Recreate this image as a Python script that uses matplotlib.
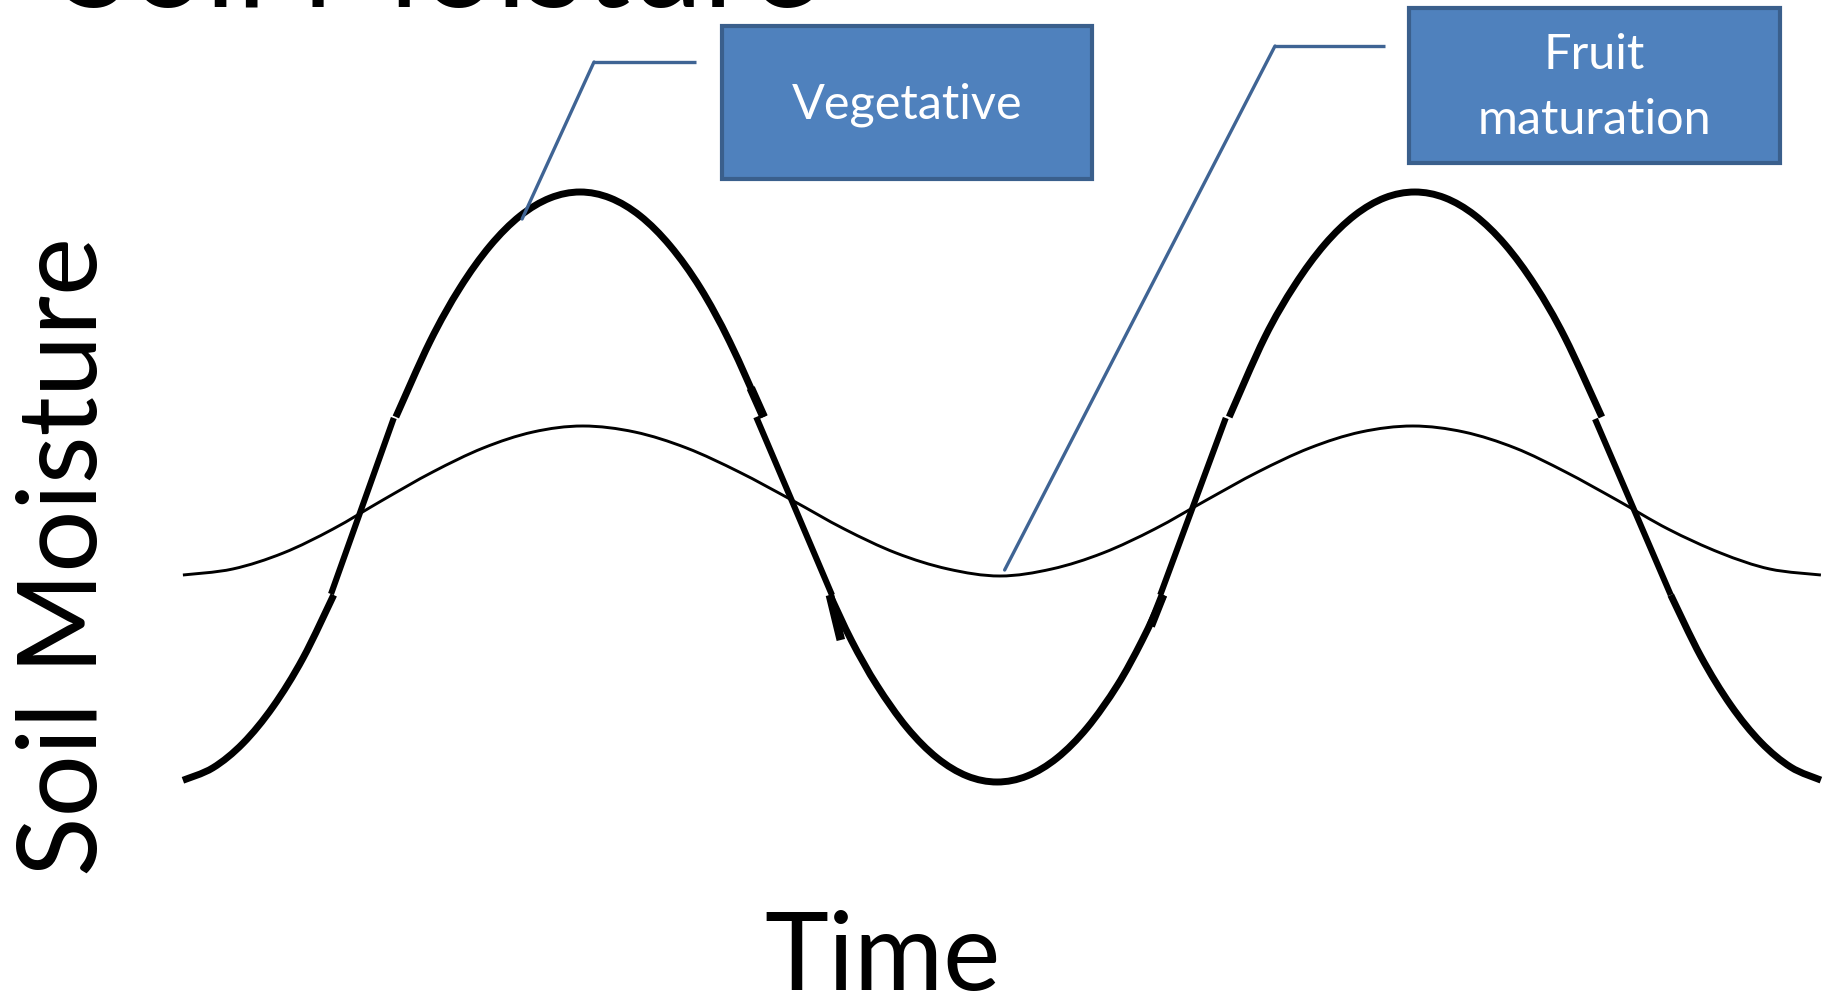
import numpy as np
import matplotlib
matplotlib.use("Agg")
import matplotlib.pyplot as plt
from matplotlib.path import Path
from matplotlib.patches import PathPatch, Rectangle
from matplotlib.lines import Line2D

# ---------------- data ----------------
# time axis: 0 .. 24 (arbitrary units), moisture: arbitrary units
thin_time = [0.00, 0.73, 1.47, 2.20, 2.93, 3.66, 4.40, 5.13, 5.86, 6.62, 7.38,
             8.15, 8.92, 9.69, 10.45, 11.21, 11.97, 12.73, 13.48, 14.24, 15.00,
             15.75, 16.51, 17.26, 18.02, 18.77, 19.52, 20.26, 21.01, 21.76,
             22.53, 23.25, 24.00]
thin_moist = [42.3, 42.9, 44.5, 46.9, 49.8, 52.6, 55.0, 56.6, 57.2, 56.6, 55.0,
              52.6, 49.8, 46.9, 44.5, 42.9, 42.2, 42.9, 44.5, 46.9, 49.8,
              52.6, 55.0, 56.6, 57.2, 56.6, 55.0, 52.6, 49.8, 46.9,
              44.5, 42.9, 42.3]

# thick curve: rounded caps (drawn smooth) ...
arcA_time = [0.00, 0.44, 0.88, 1.32, 1.76, 2.21]
arcA_moist = [21.77, 23.02, 25.47, 29.13, 33.99, 40.30]
arcB_time = [3.12, 3.62, 4.06, 4.50, 4.94, 5.38, 5.82, 6.26, 6.70, 7.14,
             7.58, 8.01, 8.51]
arcB_moist = [58.10, 65.64, 71.02, 75.21, 78.21, 80.00, 80.60, 80.00, 78.21,
              75.21, 71.02, 65.64, 58.10]
arcC_time = [9.48, 9.80, 10.17, 10.61, 11.05, 11.49, 11.93, 12.37, 12.81,
             13.25, 13.69, 14.05, 14.37]
arcC_moist = [40.30, 35.69, 31.25, 27.03, 24.01, 22.20, 21.60, 22.20, 24.01,
              27.03, 31.25, 35.69, 40.30]
arcD_time = [15.33, 15.85, 16.29, 16.73, 17.17, 17.61, 18.05, 18.49, 18.93,
             19.37, 19.81, 20.25, 20.79]
arcD_moist = [58.10, 66.04, 71.28, 75.36, 78.27, 80.02, 80.60, 80.02, 78.27,
              75.36, 71.28, 66.04, 58.10]
arcE_time = [21.80, 22.24, 22.68, 23.12, 23.56, 24.00]
arcE_moist = [40.30, 34.17, 29.27, 25.57, 23.08, 21.79]

# ... joined by straight pieces (time0, moist0, time1, moist1)
link_time0 = [3.09, 8.40, 15.28, 20.69]
link_moist0 = [58.0, 58.1, 58.0, 57.9]
link_time1 = [2.17, 9.51, 14.32, 21.80]
link_moist1 = [40.4, 40.3, 40.3, 40.3]

# short heavier strokes at some joints
bold_time0 = [8.32, 9.48, 14.36]
bold_moist0 = [61.0, 40.3, 40.3]
bold_time1 = [8.51, 9.64, 14.18]
bold_moist1 = [58.1, 35.8, 37.2]

callout_labels = ["Vegetative", "Fruit\nmaturation"]
callout_target_time = [4.97, 12.04]
callout_target_moist = [77.9, 42.8]

title_text = "Soil Moisture"
ylabel_text = "Soil Moisture"
xlabel_text = "Time"

# ---------------- drawing ----------------
W, H = 1825, 998
plt.rcParams['font.family'] = ['Lato', 'DejaVu Sans']
fig = plt.figure(figsize=(W / 100, H / 100), dpi=100)
ax = fig.add_axes([0, 0, 1, 1])
ax.axis('off')
ax.set_xlim(-2.68, 24.06)
ax.set_ylim(0, 99.8)


def smooth_path(xs, ys):
    pts = np.column_stack([xs, ys]).astype(float)
    n = len(pts)
    verts = [pts[0]]
    codes = [Path.MOVETO]
    for i in range(n - 1):
        p0 = pts[max(i - 1, 0)]
        p1 = pts[i]
        p2 = pts[i + 1]
        p3 = pts[min(i + 2, n - 1)]
        c1 = p1 + (p2 - p0) / 6.0
        c2 = p2 - (p3 - p1) / 6.0
        verts += [c1, c2, p2]
        codes += [Path.CURVE4] * 3
    return Path(verts, codes)


thin_lw = 2.1
thick_lw = 5.0

ax.add_patch(PathPatch(smooth_path(thin_time, thin_moist), fill=False,
                       lw=thin_lw, edgecolor='black', capstyle='butt'))

for t, m in [(arcA_time, arcA_moist), (arcB_time, arcB_moist),
             (arcC_time, arcC_moist), (arcD_time, arcD_moist),
             (arcE_time, arcE_moist)]:
    ax.add_patch(PathPatch(smooth_path(t, m), fill=False, lw=thick_lw,
                           edgecolor='black', capstyle='butt'))

for t0, m0, t1, m1 in zip(link_time0, link_moist0, link_time1, link_moist1):
    ax.plot([t0, t1], [m0, m1], color='black', lw=4.4, solid_capstyle='butt')

for t0, m0, t1, m1 in zip(bold_time0, bold_moist0, bold_time1, bold_moist1):
    ax.plot([t0, t1], [m0, m1], color='black', lw=6.2, solid_capstyle='butt')

# ---- callout boxes ----
box_face = '#4F81BD'
box_edge = '#3A5F8C'
line_col = '#3F6494'


def px(x, y):
    return (x / W, 1 - y / H)


boxes = [(722, 26, 1092, 179), (1409, 8, 1780, 163)]
corners = [((696, 62), (594, 62)), ((1385, 46), (1275, 46))]
for (x0, y0, x1, y1), lab, (a, b), tt, tm in zip(boxes, callout_labels, corners,
                                                 callout_target_time,
                                                 callout_target_moist):
    fx0, fy1 = px(x0, y1)
    rect = Rectangle((fx0, fy1), (x1 - x0) / W, (y1 - y0) / H,
                     transform=fig.transFigure, facecolor=box_face,
                     edgecolor=box_edge, lw=3.0, zorder=3)
    fig.patches.append(rect)
    cx, cy = px((x0 + x1) / 2, (y0 + y1) / 2)
    fig.text(cx, cy - 0.002, lab, color='white', fontsize=35, ha='center',
             va='center', linespacing=1.6, zorder=4)
    # horizontal leader part
    fig.add_artist(Line2D([a[0] / W, b[0] / W], [1 - a[1] / H, 1 - b[1] / H],
                          color=line_col, lw=2.4, transform=fig.transFigure,
                          solid_capstyle='butt'))
    ax.annotate('', xy=(tt, tm), xycoords='data',
                xytext=px(*b), textcoords='figure fraction',
                arrowprops=dict(arrowstyle='-', color=line_col, lw=2.4,
                                shrinkA=0, shrinkB=0))

# ---- texts ----
fig.text(60 / W, 1 - 7 / H, title_text, fontsize=94, ha='left',
         va='baseline', color='black')
fig.text(97 / W, 1 - 557 / H, ylabel_text, fontsize=79, rotation=90,
         rotation_mode='anchor', ha='center', va='baseline', color='black')
fig.text(883 / W, 1 - 990 / H, xlabel_text, fontsize=78, ha='center',
         va='baseline', color='black')

fig.savefig('out.png', dpi=100)
